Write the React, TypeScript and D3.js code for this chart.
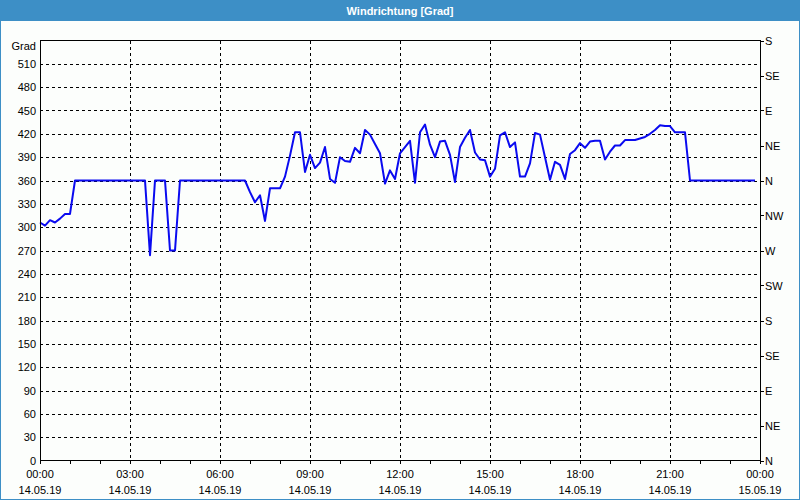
import React from "react";
import * as d3 from "d3";

const title = "Windrichtung [Grad]";
const yUnit = "Grad";
// values every 10 minutes starting 14.05.19 00:00
const stepMinutes = 10;
const values: number[] = [
  306, 302, 309, 306, 311, 317, 317, 360, 360, 360,
  360, 360, 360, 360, 360, 360, 360, 360, 360, 360,
  360, 360, 264, 360, 360, 360, 270, 270, 360, 360,
  360, 360, 360, 360, 360, 360, 360, 360, 360, 360,
  360, 360, 345, 332, 341, 308, 350, 350, 350, 365,
  392, 422, 422, 371, 393, 376, 383, 403, 362, 357,
  390, 385, 384, 402, 395, 425, 419, 407, 395, 356,
  373, 362, 395, 403, 411, 357, 422, 432, 406, 390,
  410, 411, 393, 358, 403, 415, 425, 396, 387, 386,
  365, 375, 418, 422, 403, 409, 365, 365, 382, 421,
  419, 390, 361, 384, 380, 362, 394, 399, 408, 402,
  410, 411, 411, 387, 397, 405, 405, 412, 412, 412,
  414, 416, 420, 425, 431, 430, 430, 422, 422, 422,
  360, 360, 360, 360, 360, 360, 360, 360, 360, 360,
  360, 360, 360, 360,
];
const yTicks = [0, 30, 60, 90, 120, 150, 180, 210, 240, 270, 300, 330, 360, 390, 420, 450, 480, 510];
const dirTicks = [0, 45, 90, 135, 180, 225, 270, 315, 360, 405, 450, 495, 540];
const dirLabels = ["N", "NE", "E", "SE", "S", "SW", "W", "NW", "N", "NE", "E", "SE", "S"];
const xTickHours = [0, 3, 6, 9, 12, 15, 18, 21, 24];
const xTimeLabels = ["00:00", "03:00", "06:00", "09:00", "12:00", "15:00", "18:00", "21:00", "00:00"];
const xDateLabels = ["14.05.19", "14.05.19", "14.05.19", "14.05.19", "14.05.19", "14.05.19", "14.05.19", "14.05.19", "15.05.19"];

const W = 800;
const H = 500;
const left = 40;
const right = 760;
const top = 40.5;
const bottom = 460.5;
const font = "'Liberation Sans', Arial, sans-serif";

export default function App() {
  const x = d3.scaleLinear().domain([0, 24]).range([left, right]);
  const y = d3.scaleLinear().domain([0, 540]).range([bottom, top]);
  const pts: [number, number][] = values.map((v, i) => [(i * stepMinutes) / 60, v]);
  const line = d3
    .line<[number, number]>()
    .x((d) => x(d[0]))
    .y((d) => y(d[1]));
  const hours = d3.range(0, 25);
  return (
    <svg
      width={W}
      height={H}
      style={{ position: "absolute", left: 0, top: 0, display: "block" }}
      fontFamily={font}
      fontSize={11}
    >
      <rect x={0} y={0} width={W} height={H} fill="#fcfefc" />
      <rect x={0} y={0} width={W} height={21} fill="#3d8fc6" />
      <rect x={0.5} y={0.5} width={W - 1} height={H - 1} fill="none" stroke="#3d8fc6" />
      <text x={W / 2} y={15} textAnchor="middle" fill="#ffffff" fontWeight="bold">
        {title}
      </text>

      {/* horizontal grid */}
      {yTicks.slice(1).map((t) => (
        <line
          key={"hg" + t}
          x1={left}
          x2={right}
          y1={Math.round(y(t)) + 0.5}
          y2={Math.round(y(t)) + 0.5}
          stroke="#000"
          strokeDasharray="3,3"
          shapeRendering="crispEdges"
        />
      ))}
      {/* vertical grid */}
      {xTickHours.slice(1, -1).map((h) => (
        <line
          key={"vg" + h}
          x1={Math.round(x(h)) + 0.5}
          x2={Math.round(x(h)) + 0.5}
          y1={top}
          y2={bottom}
          stroke="#000"
          strokeDasharray="3,3"
          shapeRendering="crispEdges"
        />
      ))}

      <path d={line(pts) || ""} fill="none" stroke="#0a0af0" strokeWidth={2} strokeLinejoin="round" />

      {/* frame */}
      <rect
        x={left + 0.5}
        y={top}
        width={right - left}
        height={bottom - top}
        fill="none"
        stroke="#000"
        shapeRendering="crispEdges"
      />

      {/* left labels */}
      <text x={36} y={50} textAnchor="end" fill="#000">
        {yUnit}
      </text>
      {yTicks.map((t) => (
        <text key={"yl" + t} x={36} y={y(t) + 4} textAnchor="end" fill="#000">
          {t}
        </text>
      ))}

      {/* right ticks and labels */}
      {dirTicks.map((t, i) => (
        <g key={"rt" + t}>
          <line
            x1={right}
            x2={right + 4}
            y1={Math.round(y(t)) + 0.5}
            y2={Math.round(y(t)) + 0.5}
            stroke="#000"
            shapeRendering="crispEdges"
          />
          <text x={765} y={y(t) + 4} fill="#000">
            {dirLabels[i]}
          </text>
        </g>
      ))}

      {/* bottom ticks */}
      {hours.map((h) => (
        <line
          key={"bt" + h}
          x1={Math.round(x(h)) + 0.5}
          x2={Math.round(x(h)) + 0.5}
          y1={bottom}
          y2={bottom + 3}
          stroke="#000"
          shapeRendering="crispEdges"
        />
      ))}
      {xTickHours.map((h, i) => (
        <g key={"xl" + h}>
          <text x={x(h)} y={478} textAnchor="middle" fill="#000">
            {xTimeLabels[i]}
          </text>
          <text x={x(h)} y={494} textAnchor="middle" fill="#000">
            {xDateLabels[i]}
          </text>
        </g>
      ))}
    </svg>
  );
}
